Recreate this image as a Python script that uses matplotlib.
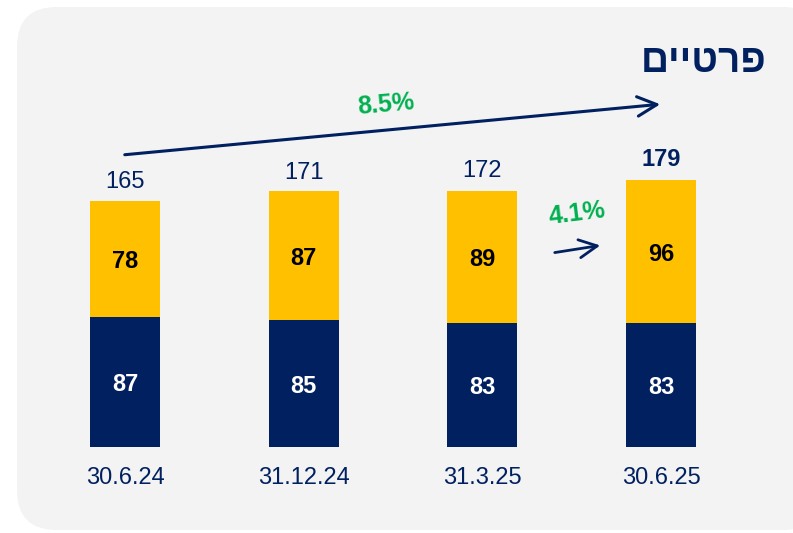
import matplotlib
matplotlib.use("Agg")
import matplotlib.pyplot as plt
from matplotlib.patches import FancyBboxPatch

# data
dates = ["30.6.24", "31.12.24", "31.3.25", "30.6.25"]
bottom_vals = [87, 85, 83, 83]
top_vals = [78, 87, 89, 96]
totals = [165, 171, 172, 179]
title = "פרטיים"
growth_year = "8.5%"
growth_quarter = "4.1%"

NAVY = "#012060"
GOLD = "#FFC000"
GREEN = "#00B050"

plt.rcParams["font.family"] = ["Liberation Sans", "DejaVu Sans"]

W, H = 793, 533
fig = plt.figure(figsize=(W / 100, H / 100), dpi=100)
fig.patch.set_facecolor("white")

# rounded grey panel
panel = FancyBboxPatch((17 / W, (H - 530) / H), (W + 30 - 17) / W, (530 - 7) / H,
                       boxstyle="round,pad=0,rounding_size=0.05",
                       transform=fig.transFigure, facecolor="#F3F3F3",
                       edgecolor="none", zorder=-1, mutation_aspect=W / H)
fig.patches.append(panel)

# axes covering the whole figure, data units mapped to pixels
px_x = 178.67
px_y = 1.49
ax = fig.add_axes([0, 0, 1, 1])
ax.set_xlim(-125 / px_x, (W - 125) / px_x)
ax.set_ylim(-(H - 447) / px_y, 447 / px_y)
ax.axis("off")
ax.patch.set_alpha(0)

x = list(range(len(dates)))
w = 70 / px_x
ax.bar(x, bottom_vals, width=w, color=NAVY, zorder=2)
ax.bar(x, top_vals, width=w, bottom=bottom_vals, color=GOLD, zorder=2)

for i in x:
    ax.text(i, bottom_vals[i] / 2, str(bottom_vals[i]), ha="center",
            va="center_baseline", color="white", fontsize=17, fontweight="bold")
    ax.text(i, bottom_vals[i] + top_vals[i] / 2, str(top_vals[i]), ha="center",
            va="center_baseline", color="black", fontsize=17, fontweight="bold")
    last = i == len(dates) - 1
    ax.annotate(str(totals[i]), (i, totals[i]), xytext=(0, 7 if last else 6),
                textcoords="offset points", ha="center", va="bottom",
                color=NAVY, fontsize=17, fontweight="bold" if last else "normal")
    ax.text(i, -31 / px_y, dates[i], ha="center", va="center", color=NAVY,
            fontsize=17)

# growth arrows
def to_data(px, py):
    return ((px - 125) / px_x, (447 - py) / px_y)

ax.annotate("", xy=to_data(663, 104), xytext=to_data(122, 155),
            arrowprops=dict(arrowstyle="->,head_length=1.4,head_width=0.7",
                            color=NAVY, lw=2.2))
ax.text(*to_data(386, 105), growth_year, ha="center", va="center", color=GREEN,
        fontsize=18, fontweight="bold", rotation=5)

ax.annotate("", xy=to_data(603, 245), xytext=to_data(552, 253),
            arrowprops=dict(arrowstyle="->,head_length=1.3,head_width=0.65",
                            color=NAVY, lw=2))
ax.text(*to_data(577, 214), growth_quarter, ha="center", va="center", color=GREEN,
        fontsize=18, fontweight="bold", rotation=7)

# Hebrew title (reversed for left-to-right rendering)
fig.text(767 / W, 1 - 62 / H, title[::-1], ha="right", va="center", color=NAVY,
         fontsize=28, fontweight="bold")

fig.savefig("out.png", dpi=100)
